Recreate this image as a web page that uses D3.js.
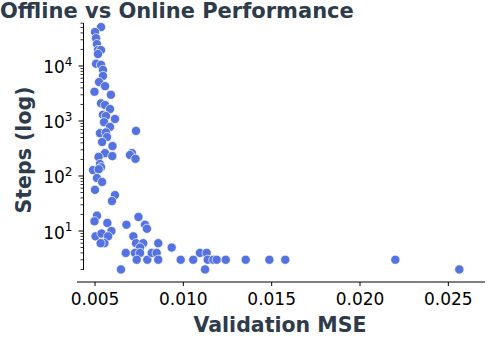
<!DOCTYPE html>
<html><head><meta charset="utf-8">
<script src="https://cdn.jsdelivr.net/npm/d3@7"></script>
<style>body{margin:0;background:#fff;}svg{display:block;font-family:"DejaVu Sans",sans-serif;}</style>
</head><body>
<svg id="c" width="500" height="350"></svg>
<script>
const mse = [0.00534,0.00500,0.00506,0.00511,0.00517,0.00534,0.00517,0.00506,0.00534,0.00545,
0.00545,0.00523,0.00557,0.00497,0.00590,0.00534,0.00557,0.00585,0.00545,0.00562,
0.00613,0.00551,0.00585,0.00528,0.00562,0.00568,0.00540,0.00599,0.00732,0.00709,
0.00698,0.00729,0.00557,0.00520,0.00598,0.00528,0.00534,0.00489,0.00521,0.00511,
0.00540,0.00500,0.00613,0.00596,0.00511,0.00497,0.00570,0.00678,0.00746,0.00783,
0.00794,0.00503,0.00537,0.00593,0.00574,0.00553,0.00532,0.00717,0.00732,0.00773,
0.00755,0.00858,0.00674,0.00726,0.00755,0.00736,0.00796,0.00821,0.00849,0.00858,
0.00934,0.00985,0.01056,0.01094,0.01132,0.01138,0.01123,0.01170,0.01189,0.01240,
0.01353,0.01487,0.01577,0.02200,0.02562,0.00647];
const steps = [51000,41500,32000,25000,19500,19500,16500,11000,10500,8500,
6600,5100,4300,3400,3000,2100,1950,1650,1300,1230,
1090,950,780,600,620,510,415,350,660,262,
241,205,260,222,230,165,145,128,133,92,
78,56,45,35,19,15,14,13,18,13,
11,8,9,10,8,6,6,8,6,6,
5,6,4,4,4,3,3,4,4,3,
5,3,3,4,4,3,2,3,3,3,
3,3,3,3,2,2];
const xTicks = [0.005,0.010,0.015,0.020,0.025];
const yMajor = [10,100,1000,10000];
const title = "Offline vs Online Performance";
const xLabel = "Validation MSE";
const yLabel = "Steps (log)";

const svg = d3.select("#c");
const ink = "#2d3b4b";
const x = d3.scaleLinear().domain([0.003981,0.027075]).range([77,485]);
const y = d3.scaleLog().domain([1.954,60500]).range([270,23]);

// x axis (offset)
const gx = svg.append("g").attr("transform","translate(0,282)");
gx.append("line").attr("x1",77).attr("x2",485).attr("stroke","#000").attr("stroke-width",1);
xTicks.forEach(t=>{
  gx.append("line").attr("x1",x(t)).attr("x2",x(t)).attr("y1",0).attr("y2",4).attr("stroke","#000");
  gx.append("text").attr("x",x(t)).attr("y",23).attr("text-anchor","middle")
    .attr("font-size",17).attr("fill","#000").text(d3.format(".3f")(t));
});

// y axis
const gy = svg.append("g").attr("transform","translate(83.5,0)");
gy.append("line").attr("y1",23).attr("y2",270).attr("stroke","#000");
const minor = y.ticks().filter(t=>!yMajor.includes(t) && y(t)>=22.5 && y(t)<=270.5);
minor.forEach(t=>{
  gy.append("line").attr("x1",-3).attr("x2",0).attr("y1",y(t)).attr("y2",y(t)).attr("stroke","#000").attr("stroke-width",0.8);
});
yMajor.forEach(t=>{
  gy.append("line").attr("x1",-5).attr("x2",0).attr("y1",y(t)).attr("y2",y(t)).attr("stroke","#000");
  const tx = gy.append("text").attr("x",-11).attr("y",y(t)+7.5).attr("text-anchor","end")
    .attr("font-size",17).attr("fill","#000");
  tx.append("tspan").text("10");
  tx.append("tspan").attr("font-size",12).attr("dy",-7.5).text(Math.round(Math.log10(t)));
});

// points
svg.append("g").selectAll("circle").data(mse.map((m,i)=>({m,s:steps[i]})))
  .join("circle").attr("cx",d=>x(d.m)).attr("cy",d=>y(d.s)).attr("r",4.6)
  .attr("fill","#5472e0").attr("stroke","#fff").attr("stroke-width",0.7);

// labels
svg.append("text").attr("x",0).attr("y",18).attr("font-size",21).attr("font-weight","bold")
  .attr("fill",ink).text(title);
svg.append("text").attr("x",280).attr("y",331.5).attr("text-anchor","middle").attr("font-size",20.5)
  .attr("font-weight","bold").attr("fill",ink).text(xLabel);
svg.append("text").attr("transform","translate(31,150) rotate(-90)").attr("text-anchor","middle")
  .attr("font-size",20.5).attr("font-weight","bold").attr("fill",ink).text(yLabel);
</script>
</body></html>
